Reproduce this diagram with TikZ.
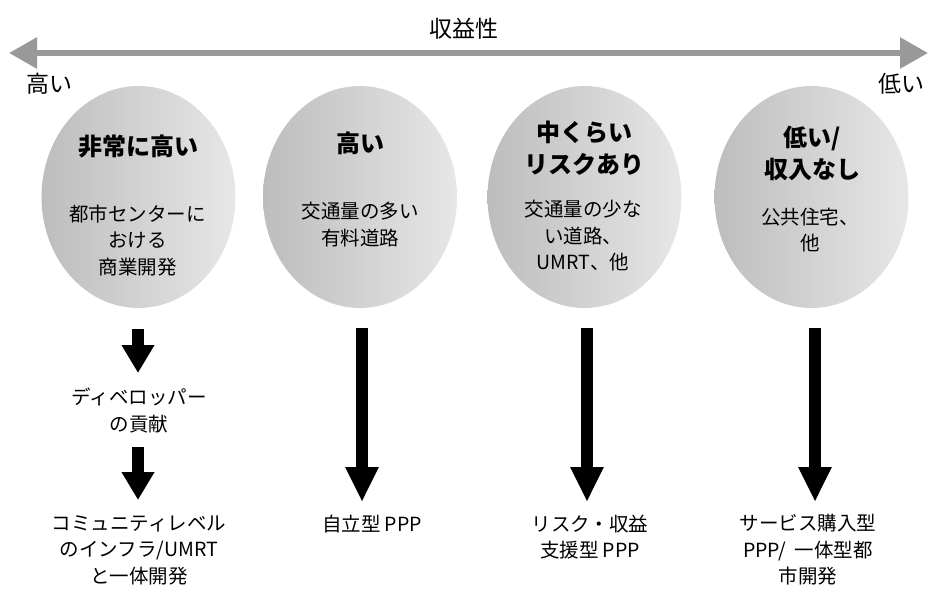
\documentclass[tikz,border=0pt]{standalone}
\usepackage{fontspec}
\setmainfont{Noto Sans CJK JP}
\usetikzlibrary{arrows.meta,shapes.geometric}
\definecolor{axisgray}{HTML}{999999}
\definecolor{elldark}{HTML}{BDBDBD}
\definecolor{elllight}{HTML}{E7E7E7}
\tikzset{
  bubble/.style={ellipse, draw=none, minimum width=194pt, minimum height=222pt,
    left color=elldark, right color=elllight, inner sep=0pt},
  ttl/.style={align=center, font=\fontsize{24}{32}\selectfont\bfseries, inner sep=0pt},
  body/.style={align=center, font=\fontsize{19.5}{26.5}\selectfont, inner sep=0pt},
  toplbl/.style={align=center, font=\fontsize{23}{28}\selectfont, inner sep=0pt},
  lbl/.style={align=center, font=\fontsize{19.5}{26.5}\selectfont, inner sep=0pt},
  shortarrow/.style={line width=12pt, -{Triangle[width=31pt,length=28pt]}},
  longarrow/.style={line width=12pt, -{Triangle[width=31pt,length=35pt]}},
  axis/.style={axisgray, line width=6pt, {Triangle[width=30pt,length=28pt]}-{Triangle[width=30pt,length=28pt]}}
}
\begin{document}
\begin{tikzpicture}[x=1pt,y=-1pt]
\useasboundingbox (0,0) rectangle (929,594);
% top axis
\coordinate (axl) at (9,53);
\coordinate (axr) at (928,53);
\draw[axis] (axl) -- (axr);
\node[toplbl] (axt) at (464,29) {収益性};
\node[toplbl] (hi) at (50,84) {高い};
\node[toplbl] (lo) at (901,84) {低い};
% ellipses
\node[bubble] (e1) at (138.5,197) {};
\node[bubble] (e2) at (360,197) {};
\node[bubble] (e3) at (584.5,197) {};
\node[bubble] (e4) at (811.5,197) {};
% texts in ellipses
\node[ttl] (t1) at (138,147) {非常に高い};
\node[body] (b1) at (137.5,240.5) {都市センターに\\おける\\商業開発};
\node[ttl] (t2) at (360,143) {高い};
\node[body] (b2) at (360,224.5) {交通量の多い\\有料道路};
\node[ttl] (t3) at (584,148.5) {中くらい\\リスクあり};
\node[body] (b3) at (583,236) {交通量の少な\\い道路、\\UMRT、他};
\node[ttl] (t4) at (812,153) {低い/\\収入なし};
\node[body] (b4) at (810,230) {公共住宅、\\他};
% bottom texts
\node[lbl] (d1) at (139,410.5) {ディベロッパー\\の貢献};
\node[lbl] (r1) at (139,550) {コミュニティレベル\\のインフラ/UMRT\\と一体開発};
\node[lbl] (r2) at (372,524) {自立型 PPP};
\node[lbl] (r3) at (590,537) {リスク・収益\\支援型 PPP};
\node[lbl] (r4) at (808,550) {サービス購入型\\PPP/\ \ 一体型都\\市開発};
% arrows
\coordinate (a1s) at (138,329); \coordinate (a1e) at (138,373);
\coordinate (a2s) at (138,447); \coordinate (a2e) at (138,500);
\coordinate (a3s) at (362,328); \coordinate (a3e) at (362,502);
\coordinate (a4s) at (587,328); \coordinate (a4e) at (587,502);
\coordinate (a5s) at (815,328); \coordinate (a5e) at (815,502);
\draw[shortarrow] (a1s) -- (a1e);
\draw[shortarrow] (a2s) -- (a2e);
\draw[longarrow] (a3s) -- (a3e);
\draw[longarrow] (a4s) -- (a4e);
\draw[longarrow] (a5s) -- (a5e);
\end{tikzpicture}
\end{document}
